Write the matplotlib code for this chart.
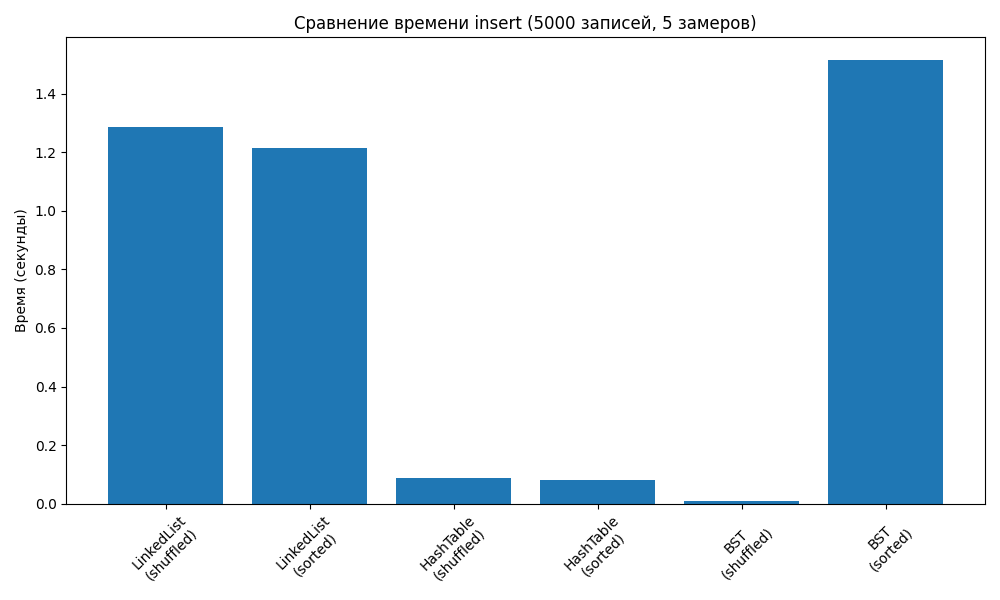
import matplotlib
matplotlib.use('Agg')
import matplotlib.pyplot as plt

# labels and measured insert times (seconds)
labels = ['LinkedList\n(shuffled)', 'LinkedList\n(sorted)',
          'HashTable\n(shuffled)', 'HashTable\n(sorted)',
          'BST\n(shuffled)', 'BST\n(sorted)']
times = [1.286, 1.214, 0.088, 0.082, 0.010, 1.516]

plt.figure(figsize=(10, 6), dpi=100)
plt.bar(labels, times)
plt.title('Сравнение времени insert (5000 записей, 5 замеров)')
plt.ylabel('Время (секунды)')
plt.xticks(rotation=45)
plt.tight_layout()
plt.savefig('out.png')
